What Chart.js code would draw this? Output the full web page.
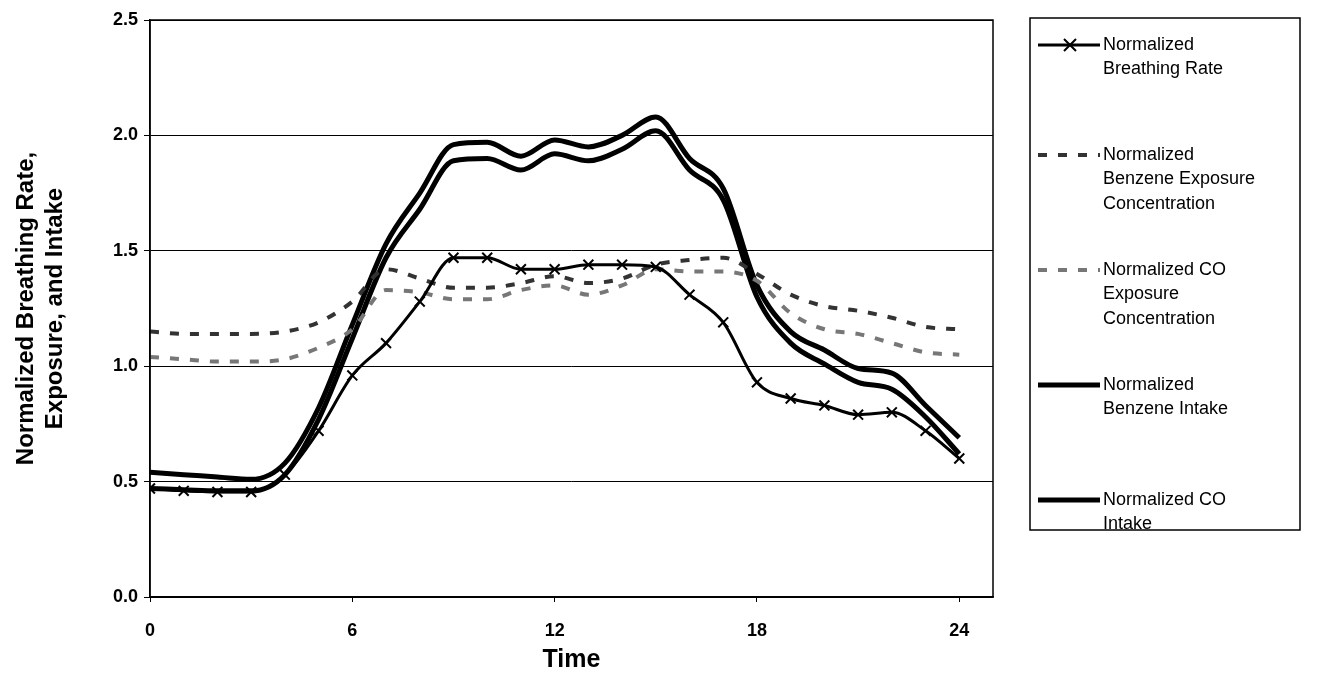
<!DOCTYPE html>
<html>
<head>
<meta charset="utf-8">
<script src="https://cdn.jsdelivr.net/npm/chart.js@4"></script>
<style>
html, body { margin: 0; padding: 0; background: #fff; }
#wrap { width: 1318px; height: 689px; }
</style>
</head>
<body>
<div id="wrap"><canvas id="chart" width="1318" height="689"></canvas></div>
<script>
// hours of the day
const hours = [0,1,2,3,4,5,6,7,8,9,10,11,12,13,14,15,16,17,18,19,20,21,22,23,24];

const breathingRate = [0.47,0.46,0.455,0.455,0.53,0.72,0.96,1.10,1.28,1.47,1.47,1.42,1.42,1.44,1.44,1.43,1.31,1.19,0.93,0.86,0.83,0.79,0.80,0.72,0.60];
const benzeneExposure = [1.15,1.14,1.14,1.14,1.15,1.19,1.28,1.42,1.38,1.34,1.34,1.36,1.39,1.36,1.38,1.44,1.46,1.47,1.40,1.31,1.26,1.24,1.21,1.17,1.16];
const coExposure = [1.04,1.03,1.02,1.02,1.03,1.08,1.16,1.33,1.32,1.29,1.29,1.33,1.35,1.31,1.35,1.42,1.41,1.41,1.37,1.23,1.16,1.14,1.10,1.06,1.05];
const benzeneIntake = [0.54,0.53,0.52,0.51,0.58,0.82,1.18,1.53,1.75,1.96,1.97,1.91,1.98,1.95,2.00,2.08,1.90,1.77,1.35,1.15,1.07,0.99,0.97,0.83,0.69];
const coIntake = [0.47,0.465,0.46,0.46,0.53,0.77,1.12,1.47,1.68,1.89,1.90,1.85,1.92,1.89,1.94,2.02,1.85,1.72,1.30,1.10,1.01,0.93,0.90,0.78,0.62];

const FONT = '"Liberation Sans", Arial, sans-serif';

function pts(arr) {
    return arr.map((v, i) => ({ x: hours[i], y: v }));
}

const datasets = [{
    label: ['Normalized', 'Breathing Rate'],
    data: pts(breathingRate),
    borderColor: '#000', borderWidth: 3,
    pointStyle: 'crossRot', pointRadius: 7, pointBorderWidth: 2, pointBorderColor: '#000'
}, {
    label: ['Normalized', 'Benzene Exposure', 'Concentration'],
    data: pts(benzeneExposure),
    borderColor: '#333', borderWidth: 4, borderDash: [9, 11], pointRadius: 0
}, {
    label: ['Normalized CO', 'Exposure', 'Concentration'],
    data: pts(coExposure),
    borderColor: '#777', borderWidth: 4, borderDash: [9, 11], pointRadius: 0
}, {
    label: ['Normalized', 'Benzene Intake'],
    data: pts(benzeneIntake),
    borderColor: '#000', borderWidth: 5, pointRadius: 0
}, {
    label: ['Normalized CO', 'Intake'],
    data: pts(coIntake),
    borderColor: '#000', borderWidth: 5, pointRadius: 0
}];

// plot frame and legend box drawn on the canvas
const framePlugin = {
    id: 'frame',
    afterDraw(chart) {
        const c = chart.ctx, a = chart.chartArea;
        c.save();
        c.strokeStyle = '#000';
        c.lineWidth = 1.5;
        c.strokeRect(a.left, a.top, a.right - a.left, a.bottom - a.top);

        // legend
        c.strokeRect(1030, 18, 270, 512);
        const rows = [45, 155, 270, 385, 500];
        c.font = '18px ' + FONT;
        c.fillStyle = '#000';
        c.textBaseline = 'middle';
        chart.data.datasets.forEach((ds, i) => {
            const y = rows[i];
            c.beginPath();
            c.strokeStyle = ds.borderColor;
            c.lineWidth = ds.borderWidth;
            c.setLineDash(ds.borderDash || []);
            c.moveTo(1038, y);
            c.lineTo(1100, y);
            c.stroke();
            c.setLineDash([]);
            if (ds.pointStyle === 'crossRot') {
                c.lineWidth = 2;
                c.beginPath();
                c.moveTo(1064, y - 6); c.lineTo(1076, y + 6);
                c.moveTo(1076, y - 6); c.lineTo(1064, y + 6);
                c.stroke();
            }
            ds.label.forEach((t, j) => c.fillText(t, 1103, y + j * 24.5));
        });
        c.restore();
    }
};

new Chart(document.getElementById('chart'), {
    type: 'line',
    data: { datasets: datasets },
    plugins: [framePlugin],
    options: {
        responsive: false,
        animation: false,
        layout: { padding: { top: 20, right: 325, left: 8, bottom: 10 } },
        elements: { line: { tension: 0.4, cubicInterpolationMode: 'monotone' } },
        plugins: { legend: { display: false }, tooltip: { enabled: false } },
        scales: {
            x: {
                type: 'linear', min: 0, max: 25,
                afterFit: s => { s.height = 82; },
                afterBuildTicks: s => { s.ticks = [0, 6, 12, 18, 24].map(v => ({ value: v })); },
                grid: { display: true, drawOnChartArea: false, color: '#000', tickLength: 5 },
                border: { color: '#000', width: 1.5 },
                ticks: { color: '#000', font: { family: FONT, size: 18, weight: 'bold' }, padding: 18 },
                title: { display: true, text: 'Time', color: '#000', font: { family: FONT, size: 25, weight: 'bold' }, padding: { top: 4 } }
            },
            y: {
                min: 0, max: 2.5,
                afterFit: s => { s.width = 142; },
                grid: { color: '#000', lineWidth: 1, tickLength: 6 },
                border: { color: '#000', width: 1.5 },
                ticks: { stepSize: 0.5, color: '#000', font: { family: FONT, size: 18, weight: 'bold' }, padding: 6, callback: v => v.toFixed(1) },
                title: { display: true, text: ['Normalized Breathing Rate,', 'Exposure, and Intake'], color: '#000', font: { family: FONT, size: 24, weight: 'bold' }, padding: 4 }
            }
        }
    }
});
</script>
</body>
</html>
